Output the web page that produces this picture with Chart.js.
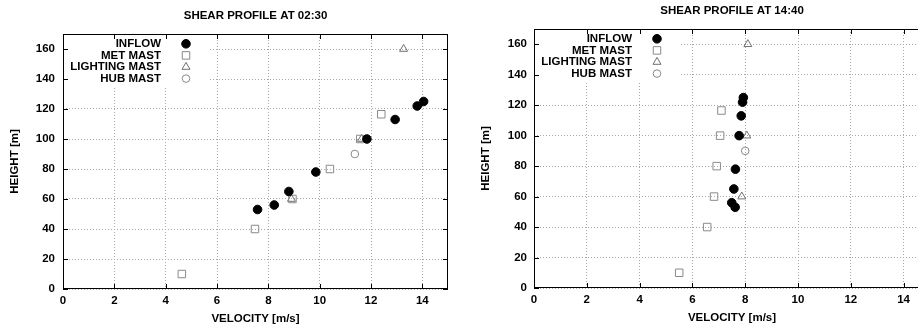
<!DOCTYPE html>
<html>
<head>
<meta charset="utf-8">
<script src="https://cdn.jsdelivr.net/npm/chart.js@4"></script>
<style>
body { margin: 0; background: #fff; }
#wrap { position: relative; width: 918px; height: 331px; overflow: hidden; }
#left { position: absolute; left: 0; top: 0; }
#right { position: absolute; left: 460px; top: 0; }
</style>
</head>
<body>
<div id="wrap">
  <canvas id="left" width="460" height="331"></canvas>
  <canvas id="right" width="480" height="331"></canvas>
</div>
<script>
const seriesNames = ['INFLOW', 'MET MAST', 'LIGHTING MAST', 'HUB MAST'];
const xTickValues = [0, 2, 4, 6, 8, 10, 12, 14];
const yTickValues = [0, 20, 40, 60, 80, 100, 120, 140, 160];

// shear profile at 02:30  (velocity m/s, height m)
const inflowA_v = [7.58, 8.23, 8.8, 9.85, 11.84, 12.94, 13.8, 14.05];
const inflowA_h = [53, 56, 65, 78, 100, 113, 122, 125];
const metA_v = [4.63, 7.48, 8.94, 10.4, 11.58, 12.4];
const metA_h = [10, 40, 60, 80, 100, 116.5];
const lightA_v = [8.9, 11.63, 13.27];
const lightA_h = [60, 100, 160];
const hubA_v = [11.37];
const hubA_h = [90];

// shear profile at 14:40
const inflowB_v = [7.93, 7.9, 7.85, 7.77, 7.63, 7.57, 7.49, 7.62];
const inflowB_h = [125, 122, 113, 100, 78, 65, 56, 53];
const metB_v = [5.5, 6.56, 6.82, 6.92, 7.05, 7.1];
const metB_h = [10, 40, 60, 80, 100, 116.5];
const lightB_v = [7.87, 8.06, 8.1];
const lightB_h = [60, 100, 160];
const hubB_v = [8.0];
const hubB_h = [90];

const FONT = '"Liberation Sans", Arial, Helvetica, sans-serif';
Chart.defaults.font.family = FONT;
const bold = { family: FONT, size: 11.5, weight: 'bold' };

const marks = [
  { pointStyle: 'circle', radius: 4.3, fill: '#000', stroke: '#000' },
  { pointStyle: 'rect', radius: 5.3, fill: 'rgba(0,0,0,0)', stroke: '#8a8a8a' },
  { pointStyle: 'triangle', radius: 4.6, fill: 'rgba(0,0,0,0)', stroke: '#707070' },
  { pointStyle: 'circle', radius: 3.8, fill: 'rgba(0,0,0,0)', stroke: '#8a8a8a' }
];

function pairs(v, h) {
  return v.map((x, i) => ({ x: x, y: h[i] }));
}

// legend marker, same shapes chart.js uses for points
function drawMark(ctx, m, x, y) {
  ctx.beginPath();
  if (m.pointStyle === 'circle') {
    ctx.arc(x, y, m.radius, 0, Math.PI * 2);
  } else if (m.pointStyle === 'rect') {
    const s = Math.SQRT1_2 * m.radius;
    ctx.rect(x - s, y - s, 2 * s, 2 * s);
  } else {
    let rad = 0;
    for (let k = 0; k < 3; k++) {
      const px = x + Math.sin(rad) * m.radius, py = y - Math.cos(rad) * m.radius;
      k ? ctx.lineTo(px, py) : ctx.moveTo(px, py);
      rad += Math.PI * 2 / 3;
    }
    ctx.closePath();
  }
  ctx.fillStyle = m.fill;
  ctx.strokeStyle = m.stroke;
  ctx.lineWidth = 1;
  ctx.fill();
  ctx.stroke();
}

const framePlugin = {
  id: 'frame',
  beforeDatasetsDraw(chart, args, opts) {
    const { ctx, chartArea: a, scales: { x, y } } = chart;
    ctx.save();
    ctx.fillStyle = '#fff';
    ctx.fillRect(a.left + 1, a.top + 1, opts.boxW, opts.boxH);

    ctx.strokeStyle = '#000';
    ctx.lineWidth = 1;
    ctx.strokeRect(a.left + 0.5, a.top + 0.5, a.right - a.left - 1, a.bottom - a.top - 1);
    ctx.beginPath();
    xTickValues.forEach(v => {
      const px = Math.round(x.getPixelForValue(v)) + 0.5;
      ctx.moveTo(px, a.bottom); ctx.lineTo(px, a.bottom - 5);
      ctx.moveTo(px, a.top); ctx.lineTo(px, a.top + 5);
    });
    yTickValues.forEach(v => {
      const py = Math.round(y.getPixelForValue(v)) + 0.5;
      ctx.moveTo(a.left, py); ctx.lineTo(a.left + 5, py);
      ctx.moveTo(a.right, py); ctx.lineTo(a.right - 5, py);
    });
    ctx.stroke();

    ctx.font = 'bold 11.5px ' + FONT;
    ctx.textAlign = 'right';
    ctx.textBaseline = 'middle';
    seriesNames.forEach((name, i) => {
      const ly = a.top + opts.rowY + i * opts.rowH;
      ctx.fillStyle = '#000';
      ctx.fillText(name, a.left + opts.textX, ly);
      drawMark(ctx, marks[i], a.left + opts.markX, ly);
    });
    ctx.restore();
  },
  afterDraw(chart, args, opts) {
    const { ctx, chartArea: a } = chart;
    ctx.save();
    ctx.font = 'bold 11.5px ' + FONT;
    ctx.fillStyle = '#000';
    ctx.textAlign = 'center';
    ctx.textBaseline = 'middle';
    ctx.fillText(opts.title, (a.left + a.right) / 2, opts.titleY);
    ctx.restore();
  }
};

function makeChart(id, title, series, g) {
  return new Chart(document.getElementById(id), {
    type: 'scatter',
    data: {
      datasets: series.map((pts, i) => ({
        label: seriesNames[i],
        data: pts,
        pointStyle: marks[i].pointStyle,
        pointRadius: marks[i].radius,
        pointHoverRadius: marks[i].radius,
        pointBackgroundColor: marks[i].fill,
        pointBorderColor: marks[i].stroke,
        pointBorderWidth: 1
      }))
    },
    options: {
      responsive: false,
      animation: false,
      events: [],
      layout: { padding: { left: 0, right: g.padRight, top: g.padTop, bottom: 0 }, autoPadding: false },
      plugins: {
        legend: { display: false },
        tooltip: { enabled: false },
        frame: {
          title: title, titleY: g.titleY,
          boxW: 146, boxH: 52, textX: 98, markX: 123, rowY: 9.8, rowH: 11.6
        }
      },
      scales: {
        x: {
          type: 'linear', min: 0, max: 15,
          afterFit: s => { s.height = g.xH; },
          afterBuildTicks: s => { s.ticks = xTickValues.map(v => ({ value: v })); },
          grid: { color: '#a8a8a8', lineWidth: 1, drawTicks: false },
          border: { display: false, dash: [1, 2] },
          ticks: { color: '#000', font: bold, padding: 4.8, maxRotation: 0, autoSkip: false },
          title: { display: true, text: 'VELOCITY [m/s]', color: '#000', font: bold, padding: { top: 0, bottom: g.xTitlePad } }
        },
        y: {
          type: 'linear', min: 0, max: 170,
          afterFit: s => { s.width = g.yW; },
          afterBuildTicks: s => { s.ticks = yTickValues.map(v => ({ value: v })); },
          grid: { color: '#a8a8a8', lineWidth: 1, drawTicks: false },
          border: { display: false, dash: [1, 2] },
          ticks: { color: '#000', font: bold, padding: g.yTickPad, autoSkip: false },
          title: { display: true, text: 'HEIGHT [m]', color: '#000', font: bold, padding: { top: g.yTitlePad, bottom: 0 } }
        }
      }
    },
    plugins: [framePlugin]
  });
}

makeChart('left', 'SHEAR PROFILE AT 02:30',
  [pairs(inflowA_v, inflowA_h), pairs(metA_v, metA_h), pairs(lightA_v, lightA_h), pairs(hubA_v, hubA_h)],
  { padRight: 12, padTop: 34, titleY: 15.7, xH: 42, yW: 63, yTickPad: 8, xTitlePad: 5.1, yTitlePad: 8.1 });

makeChart('right', 'SHEAR PROFILE AT 14:40',
  [pairs(inflowB_v, inflowB_h), pairs(metB_v, metB_h), pairs(lightB_v, lightB_h), pairs(hubB_v, hubB_h)],
  { padRight: 10, padTop: 29, titleY: 11, xH: 43, yW: 74, yTickPad: 7, xTitlePad: 6.4, yTitlePad: 19.1 });
</script>
</body>
</html>
